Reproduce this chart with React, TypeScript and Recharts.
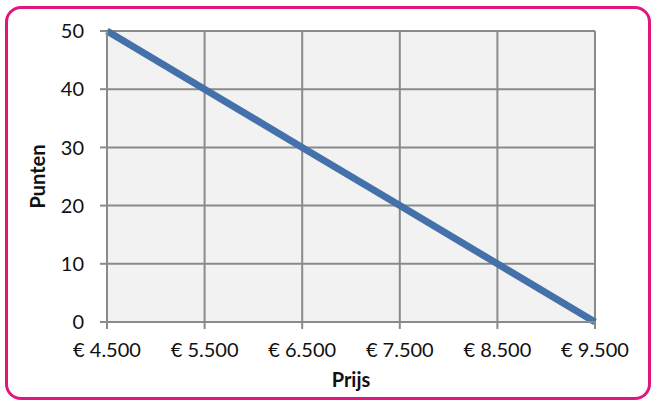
import { LineChart, Line, XAxis, YAxis, CartesianGrid } from 'recharts';

const prices = [4500, 5500, 6500, 7500, 8500, 9500];
const points = [50, 40, 30, 20, 10, 0];
const pointTicks = [0, 10, 20, 30, 40, 50];

const data = prices.map((p, i) => ({ prijs: p, punten: points[i] }));

const FONT = 'Lato, "Open Sans", sans-serif';

const euro = (v: number) => '€ ' + v.toLocaleString('nl-NL');

export default function App() {
    return (
        <div style={{ position: 'absolute', left: 0, top: 0, width: 653, height: 401, background: '#fff' }}>
            {/* pink rounded frame */}
            <div
                style={{
                    position: 'absolute',
                    left: 5,
                    top: 6,
                    width: 646,
                    height: 394,
                    border: '3px solid #E2157F',
                    borderRadius: 16,
                    boxSizing: 'border-box',
                }}
            />
            <div style={{ position: 'absolute', left: 0, top: 0 }}>
                <LineChart
                    width={653}
                    height={401}
                    data={data}
                    margin={{ top: 31, right: 58, bottom: 0, left: 0 }}
                >
                    <CartesianGrid
                        fill="#f2f2f2"
                        stroke="#8a8a8a"
                        strokeWidth={2}
                        verticalValues={prices}
                        horizontalValues={pointTicks}
                    />
                    <XAxis
                        dataKey="prijs"
                        type="number"
                        domain={[4500, 9500]}
                        ticks={prices}
                        height={79}
                        tickFormatter={euro}
                        tick={{ fill: '#111', fontSize: 20, fontFamily: FONT }}
                        tickSize={7}
                        tickMargin={14}
                        axisLine={{ stroke: '#8a8a8a', strokeWidth: 2 }}
                        tickLine={{ stroke: '#8a8a8a', strokeWidth: 2 }}
                        label={{
                            value: 'Prijs',
                            position: 'insideBottom',
                            offset: 14,
                            fill: '#111',
                            fontSize: 20,
                            fontWeight: 700,
                            fontFamily: FONT,
                        }}
                    />
                    <YAxis
                        dataKey="punten"
                        type="number"
                        domain={[0, 50]}
                        ticks={pointTicks}
                        width={107}
                        tick={{ fill: '#111', fontSize: 20, fontFamily: FONT }}
                        tickSize={7}
                        tickMargin={16}
                        axisLine={{ stroke: '#8a8a8a', strokeWidth: 2 }}
                        tickLine={{ stroke: '#8a8a8a', strokeWidth: 2 }}
                        label={{
                            value: 'Punten',
                            angle: -90,
                            position: 'insideLeft',
                            offset: 38,
                            fill: '#111',
                            fontSize: 20,
                            fontWeight: 700,
                            fontFamily: FONT,
                            style: { textAnchor: 'middle' },
                        }}
                    />
                    <Line
                        type="linear"
                        dataKey="punten"
                        stroke="#4571AA"
                        strokeWidth={7}
                        strokeLinecap="butt"
                        dot={false}
                        activeDot={false}
                        isAnimationActive={false}
                    />
                </LineChart>
            </div>
        </div>
    );
}
